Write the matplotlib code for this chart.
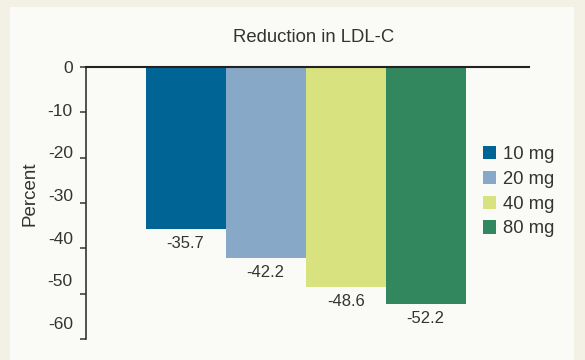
import matplotlib.pyplot as plt
from matplotlib.patches import Rectangle
from matplotlib.transforms import ScaledTranslation

plt.rcParams['font.family'] = ['Liberation Sans', 'DejaVu Sans']
plt.rcParams['axes.unicode_minus'] = False

# data
doses = ['10 mg', '20 mg', '40 mg', '80 mg']
ldl_change = [-35.7, -42.2, -48.6, -52.2]
bar_colors = ['#006595', '#87a8c6', '#d8e37f', '#33875e']
yticks = [0, -10, -20, -30, -40, -50, -60]

txt = '#333333'

fig = plt.figure(figsize=(5.85, 3.6), dpi=100)
fig.patch.set_facecolor('#f3f1e5')
# inner light panel
fig.patches.append(Rectangle((10 / 585, 0), 564 / 585, 353 / 360,
                             transform=fig.transFigure, facecolor='#fafaf6',
                             edgecolor='none', zorder=-10))

ax = fig.add_axes([86 / 585, 1 - 339 / 360, 443 / 585, 272 / 360])
ax.set_facecolor('none')

x = range(len(doses))
bars = ax.bar(x, ldl_change, width=1.0, color=bar_colors, label=doses, zorder=2)

for b, v in zip(bars, ldl_change):
    ax.annotate(f'{v}', (b.get_x() + b.get_width() / 2, v),
                xytext=(0, -5), textcoords='offset points',
                ha='center', va='top', fontsize=12, color=txt)

ax.set_xlim(-1.244, 4.29)
ax.set_ylim(-60, 0)
ax.set_yticks(yticks)
ax.set_xticks([])

for s in ['right', 'bottom']:
    ax.spines[s].set_visible(False)
ax.spines['left'].set_color('#333333')
ax.spines['left'].set_linewidth(1.2)
ax.spines['top'].set_color('#222222')
ax.spines['top'].set_linewidth(1.5)
ax.spines['top'].set_zorder(3)
ax.tick_params(axis='y', direction='out', length=4.5, width=1.1, color='#333333',
               pad=5, labelsize=12.5, labelcolor=txt)

# in the original the tick labels creep upward relative to their ticks
for k, tick in enumerate(ax.yaxis.get_major_ticks()):
    lab = tick.label1
    lab.set_transform(lab.get_transform() +
                      ScaledTranslation(0, 0.0267 * k, fig.dpi_scale_trans))

ax.set_ylabel('Percent', fontsize=13.5, color=txt)
ax.yaxis.set_label_coords(-0.108, 0.533)

fig.text(314 / 585, 1 - 37 / 360, 'Reduction in LDL-C', ha='center', va='center',
         fontsize=13.3, color=txt)

leg = ax.legend(loc='upper left', bbox_to_anchor=(483 / 585, 1 - 146 / 360),
                bbox_transform=fig.transFigure, frameon=False, fontsize=13.3,
                handlelength=0.72, handleheight=0.72, handletextpad=0.35,
                labelspacing=0.42, borderpad=0, borderaxespad=0)
for t in leg.get_texts():
    t.set_color(txt)

fig.savefig('out.png', dpi=100, facecolor=fig.get_facecolor())
